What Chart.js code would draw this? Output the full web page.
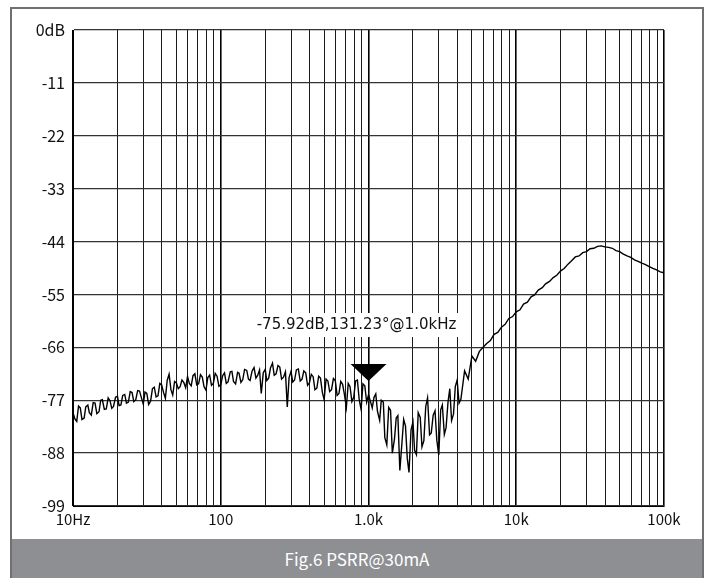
<!DOCTYPE html>
<html>
<head>
<meta charset="utf-8">
<script src="https://cdn.jsdelivr.net/npm/chart.js@4/dist/chart.umd.min.js"></script>
<style>
  html, body { margin: 0; padding: 0; background: #fff; }
  #wrap { position: relative; width: 712px; height: 578px; overflow: hidden; }
  #frame { position: absolute; left: 10px; top: 7px; width: 690px; height: 580px; border: 2px solid #707070; box-sizing: content-box; }
  #plot { position: absolute; left: 0; top: 0; }
  #caption { position: absolute; left: 12px; top: 539px; width: 690px; height: 39px; background: #8e8f93;
             color: #fff; font-family: "Noto Sans CJK SC", "Noto Sans", sans-serif; font-size: 17px;
             line-height: 39px; text-align: center; }
</style>
</head>
<body>
<div id="wrap">
  <div id="frame"></div>
  <canvas id="plot" width="712" height="539"></canvas>
  <div id="caption">Fig.6 PSRR@30mA</div>
</div>
<script>
// sweep frequencies (Hz): 80/decade up to 4.2k, 40/decade above
var freqs = [
  10, 10.3, 10.6, 10.9, 11.2, 11.5, 11.9, 12.2, 12.6, 12.9, 13.3, 13.7, 14.1, 14.5, 15.0, 15.4, 15.8, 16.3, 16.8, 17.3,
  17.8, 18.3, 18.8, 19.4, 20.0, 20.5, 21.1, 21.7, 22.4, 23.0, 23.7, 24.4, 25.1, 25.8, 26.6, 27.4, 28.2, 29.0, 29.9, 30.7,
  31.6, 32.5, 33.5, 34.5, 35.5, 36.5, 37.6, 38.7, 39.8, 41.0, 42.2, 43.4, 44.7, 46.0, 47.3, 48.7, 50.1, 51.6, 53.1, 54.6,
  56.2, 57.9, 59.6, 61.3, 63.1, 64.9, 66.8, 68.8, 70.8, 72.9, 75.0, 77.1, 79.4, 81.7, 84.1, 86.6, 89.1, 91.7, 94.4, 97.2,
  100, 103, 106, 109, 112, 116, 119, 122, 126, 130, 133, 137, 141, 145, 150, 154, 158, 163, 168, 173,
  178, 183, 188, 194, 200, 205, 211, 217, 224, 230, 237, 244, 251, 258, 266, 274, 282, 290, 299, 307,
  316, 325, 335, 345, 355, 365, 376, 387, 398, 410, 422, 434, 447, 460, 473, 487, 501, 516, 531, 546,
  562, 579, 596, 613, 631, 649, 668, 688, 708, 729, 750, 772, 794, 818, 841, 866, 891, 917, 944, 972,
  1000, 1030, 1060, 1090, 1120, 1150, 1190, 1220, 1260, 1290, 1330, 1370, 1410, 1450, 1500, 1540, 1580, 1630, 1680, 1730,
  1780, 1830, 1880, 1940, 2000, 2050, 2110, 2170, 2240, 2300, 2370, 2440, 2510, 2590, 2660, 2740, 2820, 2900, 2990, 3080,
  3160, 3260, 3350, 3450, 3550, 3650, 3760, 3870, 3980, 4100, 4220,
  4470, 4730, 5010, 5310, 5620, 5960, 6310, 6680, 7080, 7500, 7940, 8410, 8910, 9440,
  10000, 10600, 11200, 11900, 12600, 13300, 14100, 15000, 15800, 16800, 17800, 18800, 20000, 21100, 22400, 23700, 25100, 26600, 28200, 29900,
  31600, 33500, 35500, 37600, 39800, 42200, 44700, 47300, 50100, 53100, 56200, 59600, 63100, 66800, 70800, 75000, 79400, 84100, 89100, 94400,
  100000
];

// PSRR magnitude (dB)
var psrr = [
  -79.6, -80.9, -81.4, -78.2, -78.6, -81.0, -80.7, -78.4, -78.0, -79.6, -80.1, -77.5, -77.6, -79.8, -79.4, -77.0, -76.9, -78.9, -78.8, -76.5,
  -77.1, -78.7, -78.3, -76.4, -76.2, -78.1, -78.0, -76.0, -75.8, -77.6, -77.4, -75.2, -75.4, -77.3, -76.9, -75.0, -75.1, -76.4, -77.8, -75.3,
  -75.6, -77.9, -77.2, -74.6, -74.3, -76.3, -76.1, -73.5, -73.8, -75.4, -76.6, -72.9, -71.6, -74.8, -75.9, -73.1, -73.4, -74.6, -74.2, -72.8,
  -73.3, -74.4, -72.1, -73.5, -74.0, -71.9, -71.5, -73.8, -73.6, -71.7, -72.2, -74.2, -74.9, -72.3, -71.8, -73.9, -73.5, -71.4, -72.0, -74.1,
  -73.8, -71.9, -71.3, -73.5, -73.2, -71.1, -71.0, -73.1, -73.6, -71.2, -71.4, -73.3, -72.7, -70.6, -70.8, -72.6, -72.9, -70.9, -70.2, -72.4,
  -71.8, -70.7, -75.6, -71.3, -70.6, -72.9, -72.4, -70.3, -69.3, -71.8, -71.5, -69.8, -70.1, -72.6, -72.2, -71.1, -78.4, -72.3, -71.0, -73.2,
  -72.8, -70.7, -70.5, -73.0, -72.6, -70.9, -71.3, -73.9, -73.4, -71.6, -72.1, -74.8, -74.5, -72.0, -72.4, -75.3, -76.9, -72.6, -73.0, -75.2,
  -74.8, -72.5, -72.9, -76.0, -75.6, -73.1, -73.7, -75.9, -78.5, -73.5, -74.2, -77.3, -76.4, -73.0, -72.8, -77.0, -78.9, -73.6, -74.0, -77.4,
  -75.9, -77.2, -78.6, -76.4, -75.7, -79.3, -81.2, -77.0, -77.4, -84.8, -86.3, -78.5, -79.1, -88.0, -85.0, -80.7, -80.2, -91.6, -86.3, -81.0,
  -82.4, -89.1, -92.0, -83.2, -81.5, -87.4, -88.3, -79.6, -80.6, -86.7, -85.4, -78.3, -76.5, -84.2, -83.8, -80.1, -79.2, -85.3, -88.4, -79.0,
  -78.0, -84.1, -82.7, -77.5, -74.6, -81.2, -79.9, -74.1, -72.8, -77.6, -76.8,
  -70.9, -72.6, -67.8, -68.9, -66.9, -66.0, -65.2, -64.6, -63.3, -62.9, -61.8, -61.2, -60.0, -59.6,
  -58.6, -58.2, -57.0, -56.6, -55.5, -55.1, -54.1, -53.6, -52.8, -52.3, -51.5, -51.0, -50.1, -49.6, -48.7, -48.0, -47.2, -47.0, -46.3, -46.1,
  -45.5, -45.4, -45.0, -44.9, -45.1, -45.2, -45.4, -45.9, -46.1, -46.6, -47.0, -47.3, -47.8, -48.1, -48.5, -48.8, -49.2, -49.6, -49.9, -50.3,
  -50.5
];

var decades = [10, 100, 1000, 10000, 100000];
var xTickLabels = ['10Hz', '100', '1.0k', '10k', '100k'];
var yTicks = [0, -11, -22, -33, -44, -55, -66, -77, -88, -99];

var markerFreq = 1000;
var markerDb = -75.92;
var markerText = '-75.92dB,131.23°@1.0kHz';

// vertical grid: 1..9 in every decade
var gridFreqs = [];
for (var d = 0; d < 4; d++) {
  for (var m = 1; m < 10; m++) gridFreqs.push(decades[d] * m);
}
gridFreqs.push(100000);

var xFont = { family: '"Noto Sans CJK SC", "Noto Sans", sans-serif', size: 15 };
var yFont = { family: '"Noto Sans CJK SC", "Noto Sans", sans-serif', size: 16 };

// marker triangle plus readout label
var markerPlugin = {
  id: 'marker',
  afterDatasetsDraw: function (chart) {
    var ctx = chart.ctx;
    var px = chart.scales.x.getPixelForValue(markerFreq);
    var py = chart.scales.y.getPixelForValue(markerDb);
    ctx.save();
    ctx.fillStyle = '#000';
    ctx.beginPath();
    ctx.moveTo(px - 18, py - 31);
    ctx.lineTo(px + 18, py - 31);
    ctx.lineTo(px, py - 14);
    ctx.closePath();
    ctx.fill();
    ctx.font = '15px "DejaVu Sans", sans-serif';
    var w = ctx.measureText(markerText).width;
    var tx = px - 12, ty = py - 70;
    ctx.fillStyle = '#fff';
    ctx.fillRect(tx - w / 2 - 11, ty - 12, w + 22, 24);
    ctx.fillStyle = '#111';
    ctx.textAlign = 'center';
    ctx.textBaseline = 'middle';
    ctx.fillText(markerText, tx, ty);
    ctx.restore();
  }
};

var ctx = document.getElementById('plot').getContext('2d');
var chart = new Chart(ctx, {
  type: 'line',
  data: {
    datasets: [{
      data: freqs.map(function (f, i) { return { x: f, y: psrr[i] }; }),
      borderColor: '#000',
      borderWidth: 1.4,
      pointRadius: 0,
      tension: 0,
      fill: false
    }]
  },
  options: {
    responsive: false,
    animation: false,
    devicePixelRatio: 1,
    layout: { padding: { top: 30, right: 48, left: 0, bottom: 0 } },
    plugins: { legend: { display: false }, tooltip: { enabled: false } },
    scales: {
      x: {
        type: 'logarithmic',
        min: 10,
        max: 100000,
        afterBuildTicks: function (scale) {
          scale.ticks = gridFreqs.map(function (v) { return { value: v }; });
        },
        afterFit: function (scale) { scale.height = 33; },
        grid: {
          drawTicks: false,
          color: function (c) { return decades.indexOf(c.tick && c.tick.value) >= 0 ? '#000' : '#1a1a1a'; },
          lineWidth: function (c) { return decades.indexOf(c.tick && c.tick.value) >= 0 ? 1.6 : 1; }
        },
        border: { display: true, color: '#000', width: 1 },
        ticks: {
          autoSkip: false,
          maxRotation: 0,
          padding: 4,
          color: '#111',
          font: xFont,
          callback: function (value) {
            var k = decades.indexOf(value);
            return k >= 0 ? xTickLabels[k] : '';
          }
        }
      },
      y: {
        type: 'linear',
        min: -99,
        max: 0,
        afterBuildTicks: function (scale) {
          scale.ticks = yTicks.map(function (v) { return { value: v }; });
        },
        afterFit: function (scale) { scale.width = 73; },
        grid: { drawTicks: false, color: '#333', lineWidth: 1.3 },
        border: { display: true, color: '#000', width: 1 },
        ticks: {
          padding: 8,
          color: '#111',
          font: yFont,
          callback: function (value) { return value === 0 ? '0dB' : String(value); }
        }
      }
    }
  },
  plugins: [markerPlugin]
});
</script>
</body>
</html>
